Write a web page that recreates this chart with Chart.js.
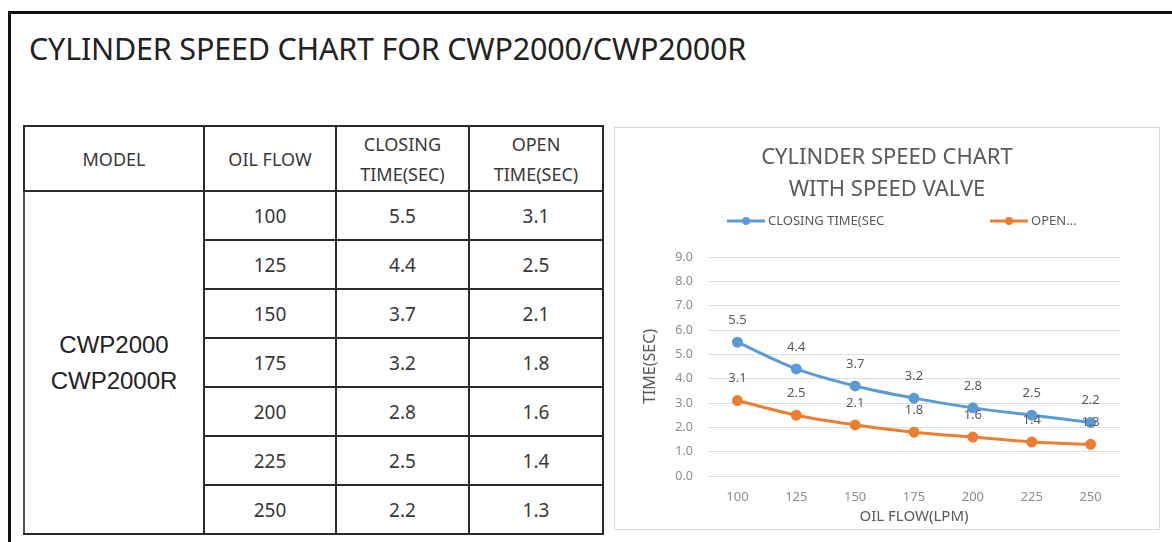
<!DOCTYPE html>
<html>
<head>
<meta charset="utf-8">
<script src="https://cdn.jsdelivr.net/npm/chart.js@4"></script>
<style>
  html, body { margin: 0; padding: 0; background: #fff; }
  body { width: 1172px; height: 542px; position: relative; overflow: hidden; font-family: "Noto Sans", sans-serif; }
  .frame { position: absolute; left: 8px; top: 11px; width: 1300px; height: 700px; border-top: 3px solid #111; border-left: 3px solid #111; }
  .page-title { position: absolute; left: 29px; top: 27px; font-size: 30.5px; color: #222; white-space: nowrap; letter-spacing: -0.2px; }
  table.speed { position: absolute; left: 23px; top: 125px; border-collapse: collapse; table-layout: fixed; color: #383838; }
  table.speed td { border: 2px solid #2a2a2a; text-align: center; padding: 0; font-size: 19px; height: 47px; }
  table.speed tr.head td { height: 63px; font-size: 18px; line-height: 30px; }
  table.speed td.model { font-family: "Liberation Sans", Arial, sans-serif; font-size: 24px; line-height: 36px; color: #222; border-left-color: #555; }
  .panel { position: absolute; left: 614px; top: 127px; width: 544px; height: 401px; border: 1px solid #d9d9d9; }
</style>
</head>
<body>
<div class="frame"></div>
<div class="page-title">CYLINDER SPEED CHART FOR CWP2000/CWP2000R</div>
<table class="speed" id="speedTable">
  <colgroup><col style="width:180px"><col style="width:132px"><col style="width:133px"><col style="width:134px"></colgroup>
</table>
<div class="panel"><canvas id="speedChart" width="544" height="401"></canvas></div>
<script>
  // --- Data ------------------------------------------------------------------
  var modelName   = ['CWP2000', 'CWP2000R'];
  var oilFlow     = ['100', '125', '150', '175', '200', '225', '250'];
  var closingTime = [5.5, 4.4, 3.7, 3.2, 2.8, 2.5, 2.2];
  var openTime    = [3.1, 2.5, 2.1, 1.8, 1.6, 1.4, 1.3];
  var headers     = ['MODEL', 'OIL FLOW', 'CLOSING<br>TIME(SEC)', 'OPEN<br>TIME(SEC)'];
  var legendText  = ['CLOSING TIME(SEC', 'OPEN...'];

  // --- Table -----------------------------------------------------------------
  (function(){
    var table = document.getElementById('speedTable');
    var html = '<tr class="head">' + headers.map(function(h){ return '<td>' + h + '</td>'; }).join('') + '</tr>';
    oilFlow.forEach(function(flow, i){
      html += '<tr>';
      if(i === 0){
        html += '<td class="model" rowspan="' + oilFlow.length + '">' + modelName.join('<br>') + '</td>';
      }
      html += '<td>' + flow + '</td><td>' + closingTime[i].toFixed(1) + '</td><td>' + openTime[i].toFixed(1) + '</td>';
      html += '</tr>';
    });
    table.insertAdjacentHTML('beforeend', html);
  })();

  // --- Chart plugins ---------------------------------------------------------
  var GREY = '#595959';
  var FONT = '"Noto Sans", sans-serif';

  // value labels above each point
  var pointLabels = {
    id: 'pointLabels',
    afterDatasetsDraw: function(chart){
      var ctx = chart.ctx;
      ctx.save();
      ctx.font = '13px ' + FONT;
      ctx.fillStyle = GREY;
      ctx.textAlign = 'center';
      ctx.textBaseline = 'middle';
      chart.data.datasets.forEach(function(ds, di){
        chart.getDatasetMeta(di).data.forEach(function(pt, i){
          ctx.fillText(Number(ds.data[i]).toFixed(1), pt.x, pt.y - 22);
        });
      });
      ctx.restore();
    }
  };

  // excel-like legend: line with a dot, then the text
  var lineLegend = {
    id: 'lineLegend',
    afterDraw: function(chart, args, opts){
      var ctx = chart.ctx;
      ctx.save();
      ctx.font = '13px ' + FONT;
      ctx.textBaseline = 'middle';
      chart.data.datasets.forEach(function(ds, i){
        var x = opts.x[i], y = opts.y;
        ctx.strokeStyle = ds.borderColor;
        ctx.fillStyle = ds.borderColor;
        ctx.lineWidth = 3;
        ctx.beginPath(); ctx.moveTo(x, y); ctx.lineTo(x + 38, y); ctx.stroke();
        ctx.beginPath(); ctx.arc(x + 19, y, 4, 0, Math.PI * 2); ctx.fill();
        ctx.fillStyle = GREY;
        ctx.fillText(legendText[i], x + 41, y);
      });
      ctx.restore();
    }
  };

  // --- Chart -----------------------------------------------------------------
  var ctx = document.getElementById('speedChart').getContext('2d');
  new Chart(ctx, {
    type: 'line',
    data: {
      labels: oilFlow,
      datasets: [{
        label: 'CLOSING TIME(SEC)',
        data: closingTime,
        borderColor: '#5b9bd5',
        backgroundColor: '#5b9bd5',
        borderWidth: 3,
        pointRadius: 4,
        tension: 0.35
      },{
        label: 'OPEN TIME(SEC)',
        data: openTime,
        borderColor: '#ed7d31',
        backgroundColor: '#ed7d31',
        borderWidth: 3,
        pointRadius: 4,
        tension: 0.35
      }]
    },
    plugins: [pointLabels, lineLegend],
    options: {
      responsive: false,
      animation: false,
      layout: { padding: 0 },
      plugins: {
        legend: { display: false },
        tooltip: { enabled: false },
        title: {
          display: true,
          text: ['CYLINDER SPEED CHART', 'WITH SPEED VALVE'],
          color: GREY,
          font: { family: FONT, size: 22, weight: 'normal', lineHeight: '32px' },
          padding: { top: 14, bottom: 51 }
        },
        lineLegend: { x: [112, 375], y: 93 }
      },
      scales: {
        x: {
          offset: true,
          grid: { display: false, drawTicks: false },
          border: { display: false },
          ticks: { color: '#8c8c8c', font: { family: FONT, size: 13 }, padding: 13 },
          title: {
            display: true, text: 'OIL FLOW(LPM)', color: GREY,
            font: { family: FONT, size: 15 },
            padding: { top: 0, bottom: 3 }
          },
          afterFit: function(scale){ scale.height = 53; }
        },
        y: {
          min: 0, max: 9,
          grid: { color: '#dedede', drawTicks: false },
          border: { display: false },
          ticks: {
            stepSize: 1, padding: 15, color: '#8c8c8c',
            font: { family: FONT, size: 12.5 },
            callback: function(v){ return Number(v).toFixed(1); }
          },
          title: {
            display: true, text: 'TIME(SEC)', color: GREY,
            font: { family: FONT, size: 16 },
            padding: { top: 26, bottom: 0 }
          },
          afterFit: function(scale){ scale.width = 93; }
        },
        // empty right-hand margin so the plot sits where the original does
        rightGap: {
          type: 'linear',
          position: 'right',
          grid: { display: false },
          border: { display: false },
          ticks: { display: false },
          afterFit: function(scale){ scale.width = 39; }
        }
      }
    }
  });
</script>
</body>
</html>
